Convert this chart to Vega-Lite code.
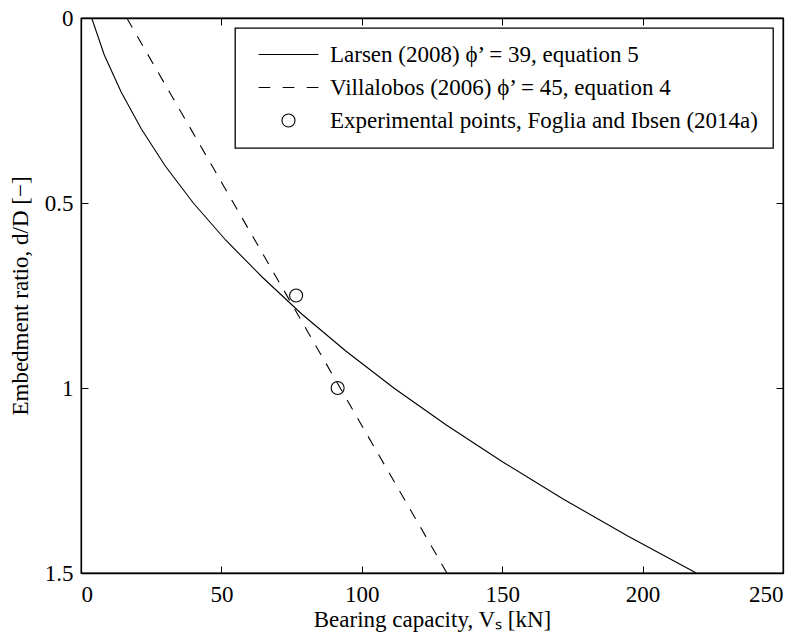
{
  "$schema": "https://vega.github.io/schema/vega-lite/v6.json",
  "width": 702,
  "height": 555,
  "autosize": "none",
  "padding": {"left": 81, "top": 18, "right": 21, "bottom": 66},
  "background": "white",
  "config": {
    "font": "Liberation Serif",
    "view": {"stroke": "black", "strokeWidth": 1.3},
    "axis": {
      "labelFont": "Liberation Serif",
      "titleFont": "Liberation Serif",
      "labelFontSize": 23,
      "titleFontSize": 23,
      "titleFontWeight": "normal",
      "labelColor": "black",
      "titleColor": "black",
      "domainColor": "black",
      "domainWidth": 1.3,
      "tickColor": "black",
      "tickWidth": 1,
      "tickSize": -7,
      "grid": false
    },
    "legend": {
      "orient": "top-right",
      "offset": 10,
      "strokeColor": "black",
      "strokeWidth": 1.3,
      "fillColor": "white",
      "padding": 15,
      "labelFont": "Liberation Serif",
      "labelFontSize": 23,
      "labelColor": "black",
      "labelLimit": 0,
      "labelOffset": 30,
      "symbolOffset": 27,
      "symbolSize": 169,
      "rowPadding": 9,
      "symbolStrokeColor": "black",
      "symbolStrokeWidth": 1.1,
      "symbolFillColor": "transparent"
    }
  },
  "datasets": {
    "larsen": [
      {"V": 3.8, "d": 0.0},
      {"V": 8.3, "d": 0.1},
      {"V": 14.3, "d": 0.2},
      {"V": 21.5, "d": 0.3},
      {"V": 30.0, "d": 0.4},
      {"V": 40.0, "d": 0.5},
      {"V": 51.5, "d": 0.6},
      {"V": 64.5, "d": 0.7},
      {"V": 78.6, "d": 0.8},
      {"V": 94.3, "d": 0.9},
      {"V": 111.4, "d": 1.0},
      {"V": 130.1, "d": 1.1},
      {"V": 150.2, "d": 1.2},
      {"V": 171.7, "d": 1.3},
      {"V": 194.7, "d": 1.4},
      {"V": 219.1, "d": 1.5}
    ],
    "villalobos": [
      {"V": 16.3, "d": 0.0},
      {"V": 54.3, "d": 0.5},
      {"V": 92.3, "d": 1.0},
      {"V": 130.3, "d": 1.5}
    ],
    "exp": [
      {"V": 76.6, "d": 0.75, "series": "Experimental points, Foglia and Ibsen (2014a)"},
      {"V": 91.4, "d": 1.0, "series": "Experimental points, Foglia and Ibsen (2014a)"}
    ]
  },
  "layer": [
    {
      "data": {"name": "larsen"},
      "mark": {"type": "line", "color": "black", "strokeWidth": 1.1},
      "encoding": {
        "x": {"field": "V", "type": "quantitative", "scale": {"domain": [0, 250]},
          "axis": {"orient": "bottom", "values": [0, 50, 100, 150, 200, 250], "labelPadding": 17, "title": "Bearing capacity, Vₛ [kN]", "titlePadding": 2}},
        "y": {"field": "d", "type": "quantitative", "scale": {"domain": [0, 1.5], "reverse": true},
          "axis": {"orient": "left", "values": [0, 0.5, 1, 1.5], "format": "~g", "labelPadding": 15, "title": "Embedment ratio, d/D [−]", "titlePadding": 12}}
      }
    },
    {
      "data": {"name": "villalobos"},
      "mark": {"type": "line", "color": "black", "strokeWidth": 1.1, "strokeDash": [11, 10]},
      "encoding": {
        "x": {"field": "V", "type": "quantitative", "scale": {"domain": [0, 250]},
          "axis": {"orient": "top", "values": [0, 50, 100, 150, 200, 250], "labels": false, "title": null}},
        "y": {"field": "d", "type": "quantitative", "scale": {"domain": [0, 1.5], "reverse": true},
          "axis": {"orient": "right", "values": [0, 0.5, 1, 1.5], "labels": false, "title": null}}
      }
    },
    {
      "data": {"name": "exp"},
      "mark": {"type": "point", "filled": false, "color": "black", "strokeWidth": 1.1, "size": 169, "opacity": 1},
      "encoding": {
        "x": {"field": "V", "type": "quantitative", "scale": {"domain": [0, 250]}, "axis": null},
        "y": {"field": "d", "type": "quantitative", "scale": {"domain": [0, 1.5], "reverse": true}, "axis": null},
        "shape": {
          "field": "series",
          "type": "nominal",
          "scale": {
            "domain": ["Larsen (2008) ϕ’ = 39, equation 5", "Villalobos (2006) ϕ’ = 45, equation 4", "Experimental points, Foglia and Ibsen (2014a)"],
            "range": ["M-4.6,0H4.6", "M-4.6,0H-2.8M-0.9,0H0.9M2.8,0H4.6", "circle"]
          },
          "legend": {"title": null}
        }
      }
    }
  ],
  "resolve": {"axis": {"x": "independent", "y": "independent"}}
}
